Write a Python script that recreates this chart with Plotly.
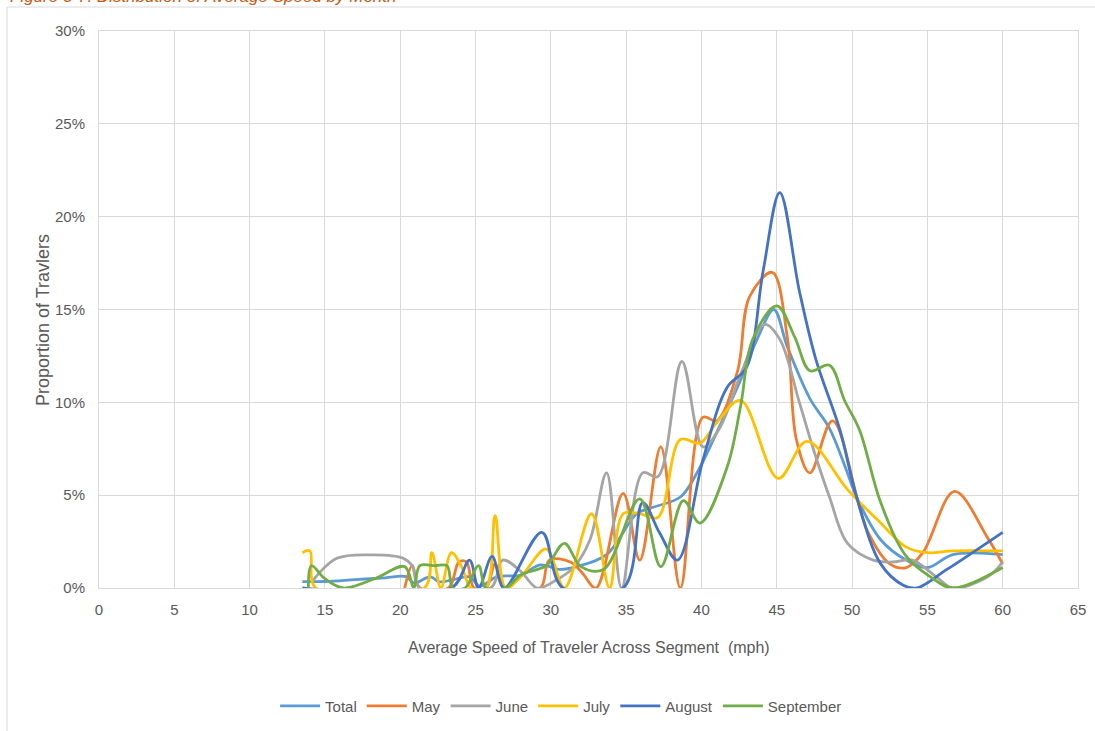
import plotly.graph_objects as go

# Share of travelers (%) by average segment speed (mph), per month
total_x = [13.5, 15, 17, 19, 20.4, 20.9, 22, 22.6, 23.5, 24.6, 25.3, 26.4, 28, 29.3, 30.6, 31.7, 33.7,
           35.7, 36.6, 38.6, 39.7, 41.2, 42.6, 43.7, 44.8, 45.7, 47.2, 48.5, 49.6, 50.3, 51.9, 53.6, 55, 56.7, 60]
total_y = [0.34, 0.35, 0.45, 0.55, 0.61, 0.27, 0.6, 0.33, 0.45, 0.6, 0.1, 0.6, 0.7, 1.24, 1.0, 1.15, 1.8,
           4.0, 4.3, 4.9, 6.2, 8.7, 11.2, 13.4, 15.0, 13.0, 10.2, 8.6, 6.4, 4.9, 2.6, 1.5, 1.1, 1.8, 1.8]

may_x = [20.3, 20.8, 21.3, 23.2, 23.9, 24.4, 24.9, 25.7, 26.3, 26.9, 29.3, 29.9, 31.3, 32.1, 33.0, 34.8,
         35.9, 37.3, 38.6, 40.1, 41.0, 42.4, 43.2, 44.7, 45.7, 46.3, 47.2, 48.7, 51.0, 52.5, 53.6, 54.7,
         56.8, 59.0, 60.0]
may_y = [0, 1.2, 0, 0, 1.4, 1.4, 0, 0, 1.3, 0, 0, 1.5, 1.4, 0.8, 0, 5.1,
         1.5, 7.6, 0, 9.2, 9.0, 11.7, 15.7, 17.0, 13.5, 8.0, 6.2, 9.0, 3.1, 1.3, 1.1, 1.9,
         5.2, 2.7, 1.3]

june_x = [14.2, 15.8, 18.2, 20.2, 20.8, 21.3, 26.0, 26.8, 28.0, 29.1, 30.3, 31.5, 32.6, 33.7, 34.7, 36.1,
          37.1, 38.7, 40.1, 41.2, 42.6, 44.2, 45.2, 46.5, 47.5, 48.5, 49.7, 51.4, 52.7, 54.0, 55.6, 56.7,
          59.0, 60.0]
june_y = [0.4, 1.6, 1.78, 1.6, 1.2, 0, 0, 1.5, 0.9, 0, 0.4, 1.1, 2.6, 6.2, 0, 6.2,
          6.0, 12.2, 7.6, 8.6, 11.5, 14.2, 13.4, 10.0, 7.3, 4.9, 2.4, 1.5, 1.4, 1.5, 0.6, 0,
          0.6, 1.4]

july_x = [13.5, 14.0, 14.4, 21.6, 22.1, 22.7, 23.4, 24.1, 24.7, 25.7, 26.3, 27.0, 28.0, 29.7, 30.9, 32.7,
          33.9, 34.8, 35.9, 37.1, 38.6, 39.9, 41.0, 42.6, 45.1, 47.0, 49.7, 51.9, 53.6, 55.0, 56.7, 60.0]
july_y = [1.9, 2.0, 0, 0, 1.9, 0, 1.9, 1.1, 0, 0, 3.9, 0, 0.6, 2.1, 0, 4.0,
          0, 4.0, 4.0, 3.8, 8.0, 7.8, 8.9, 10.1, 5.9, 7.9, 5.3, 3.5, 2.2, 1.9, 2.0, 2.0]

august_x = [13.5, 23.4, 24.6, 25.2, 26.1, 26.9, 29.4, 30.8, 34.8, 36.1, 37.2, 38.4, 40.1, 41.7, 43.0, 44.1,
            45.2, 46.5, 47.6, 49.2, 50.3, 51.9, 53.4, 54.3, 56.3, 60.0]
august_y = [0, 0, 1.5, 0, 1.7, 0, 3.0, 0, 0, 4.6, 3.0, 1.5, 6.9, 10.8, 11.9, 17.1,
            21.3, 16.0, 12.3, 8.5, 4.9, 1.3, 0.15, 0, 1.0, 3.0]

september_x = [13.9, 14.1, 15.0, 16.2, 18.3, 20.3, 20.9, 21.3, 22.3, 23.1, 23.5, 24.3, 25.2, 25.7, 27.0,
               28.0, 29.7, 30.9, 32.0, 33.5, 35.9, 37.3, 38.8, 39.9, 41.7, 42.6, 43.4, 45.0, 46.2, 47.2,
               48.5, 49.5, 50.5, 51.9, 53.6, 55.2, 56.7, 60.0]
september_y = [0, 1.2, 0.5, 0, 0.5, 1.15, 0, 1.2, 1.2, 1.2, 0, 0, 1.2, 0, 0,
               0.7, 1.2, 2.4, 1.15, 1.0, 4.8, 1.15, 4.7, 3.5, 6.5, 9.8, 13.4, 15.2, 13.5, 11.7,
               12.0, 10.1, 8.5, 4.6, 1.7, 0.6, 0, 1.1]

series = [
    ("Total", total_x, total_y, "#5B9BD5"),
    ("May", may_x, may_y, "#ED7D31"),
    ("June", june_x, june_y, "#A5A5A5"),
    ("July", july_x, july_y, "#FFC000"),
    ("August", august_x, august_y, "#4472C4"),
    ("September", september_x, september_y, "#70AD47"),
]

x_ticks = list(range(0, 66, 5))
y_ticks = list(range(0, 31, 5))

narrow = "Liberation Sans Narrow, Arial Narrow, Liberation Sans, sans-serif"
grey_text = "#595959"
grid = "#D9D9D9"

fig = go.Figure()
for name, xs, ys, color in series:
    fig.add_trace(go.Scatter(
        x=xs, y=ys, name=name, mode="lines",
        line=dict(color=color, width=2.8, shape="spline", smoothing=1.0),
        hoverinfo="skip",
    ))

fig.update_layout(
    width=1095, height=731,
    margin=dict(l=99, r=17, t=31, b=143, autoexpand=False),
    paper_bgcolor="white", plot_bgcolor="white",
    showlegend=True,
    legend=dict(orientation="h", x=0.472, xanchor="center", y=-0.212, yanchor="middle",
                font=dict(family=narrow, size=15, color=grey_text),
                itemwidth=40, tracegroupgap=0, entrywidth=0),
    xaxis=dict(range=[0, 65], tickvals=x_ticks, ticktext=[str(v) for v in x_ticks],
               showgrid=True, gridcolor=grid, gridwidth=1, zeroline=False,
               showline=True, linecolor=grid, mirror=True, ticks="",
               tickfont=dict(family=narrow, size=15, color=grey_text), ticklabelstandoff=8),
    yaxis=dict(range=[0, 30], tickvals=y_ticks, ticktext=[f"{v}%" for v in y_ticks],
               showgrid=True, gridcolor=grid, gridwidth=1, zeroline=False,
               showline=True, linecolor=grid, mirror=True, ticks="",
               tickfont=dict(family=narrow, size=15, color=grey_text), ticklabelstandoff=10),
    annotations=[
        dict(text="Average Speed of Traveler Across Segment  (mph)", xref="paper", yref="paper",
             x=0.501, y=-0.106, xanchor="center", yanchor="middle", showarrow=False,
             font=dict(family=narrow, size=16, color=grey_text)),
        dict(text="Proportion of Travlers", xref="paper", yref="paper",
             x=-0.0572, y=0.481, xanchor="center", yanchor="middle", showarrow=False, textangle=-90,
             font=dict(family="Liberation Sans, Open Sans, sans-serif", size=18, color=grey_text)),
        dict(text="<i>Figure 3-7: Distribution of Average Speed by Month</i>", xref="paper", yref="paper",
             x=(8 - 99) / 979, y=(588 - 8) / 557, xanchor="left", yanchor="bottom", showarrow=False,
             font=dict(family="Liberation Sans Narrow, Liberation Sans, sans-serif", size=17, color="#C55A11")),
    ],
    shapes=[
        dict(type="line", xref="paper", yref="paper", x0=(7 - 99) / 979, x1=(1095 - 99) / 979,
             y0=(588 - 7) / 557, y1=(588 - 7) / 557, line=dict(color=grid, width=1)),
        dict(type="line", xref="paper", yref="paper", x0=(7 - 99) / 979, x1=(7 - 99) / 979,
             y0=(588 - 7) / 557, y1=(588 - 731) / 557, line=dict(color=grid, width=1)),
    ],
)

fig.write_html("out.html")
